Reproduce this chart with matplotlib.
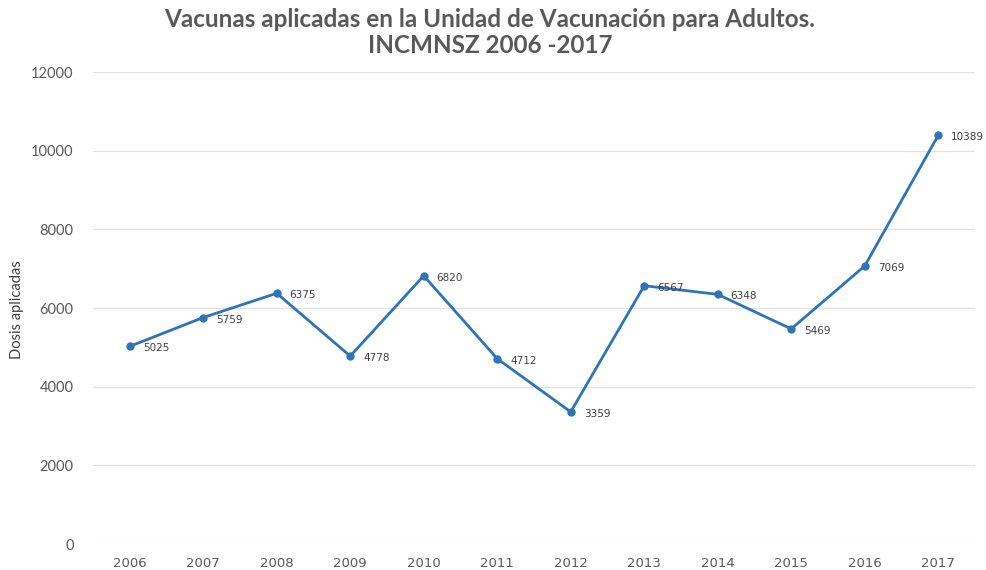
import matplotlib.pyplot as plt

years = ["2006", "2007", "2008", "2009", "2010", "2011",
         "2012", "2013", "2014", "2015", "2016", "2017"]
doses = [5025, 5759, 6375, 4778, 6820, 4712, 3359, 6567, 6348, 5469, 7069, 10389]
y_ticks = [0, 2000, 4000, 6000, 8000, 10000, 12000]

gray = "#595959"
blue = "#2E75B6"
narrow = ["Lato", "DejaVu Sans"]

fig = plt.figure(figsize=(9.86, 5.70), dpi=100)
ax = fig.add_axes([0.0943, 0.0456, 0.8945, 0.828])

x = list(range(len(years)))
ax.plot(x, doses, color=blue, lw=2, marker="o", markersize=5, zorder=3)
for xi, v in zip(x, doses):
    ax.annotate(str(v), (xi, v), xytext=(13, -2), textcoords="offset pixels",
                ha="left", va="center", fontsize=7.5, color="#404040")

ax.set_xlim(-0.5, len(years) - 0.5)
ax.set_ylim(0, 12000)
ax.set_xticks(x)
ax.set_xticklabels(years, fontsize=9.5, color=gray)
ax.set_yticks(y_ticks)
ax.set_yticklabels([str(t) for t in y_ticks], family=narrow, fontsize=10.5, color=gray)
ax.tick_params(axis="x", length=0, pad=9)
ax.tick_params(axis="y", length=0, pad=14)
ax.grid(axis="y", color="#E3E3E3", lw=0.9)
ax.set_axisbelow(True)
for s in ax.spines.values():
    s.set_visible(False)

fig.text(0.0175, 0.456, "Dosis aplicadas", rotation=90, ha="center", va="center",
         family=narrow, fontsize=10.5, color="#404040")
fig.text(0.497, 0.966, "Vacunas aplicadas en la Unidad de Vacunación para Adultos.",
         ha="center", va="center", family=narrow, fontsize=17.5, fontweight="bold", color=gray)
fig.text(0.497, 0.921, "INCMNSZ 2006 -2017",
         ha="center", va="center", family=narrow, fontsize=17.5, fontweight="bold", color=gray)

fig.savefig("out.png", dpi=100)
